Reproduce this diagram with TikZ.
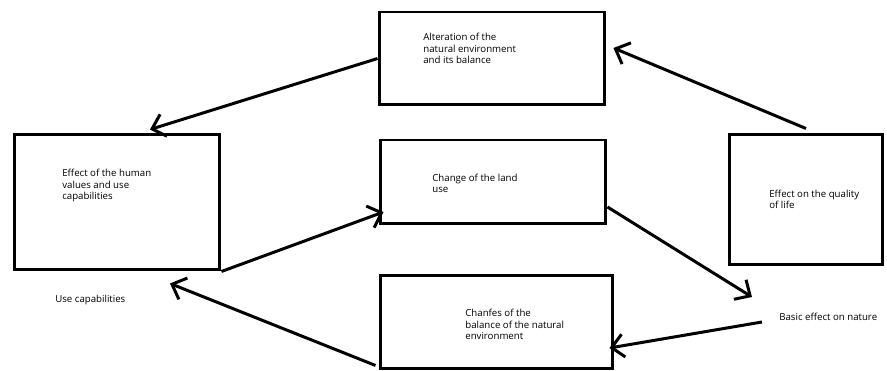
\documentclass[tikz,border=0pt]{standalone}
\usepackage{fontspec}
\setmainfont{Open Sans}
\usetikzlibrary{positioning, arrows.meta}

\begin{document}
\begin{tikzpicture}[
    x=0.02cm, y=-0.02cm,
    font=\fontsize{5.5}{6.8}\selectfont,
    box/.style={rectangle, draw=black, line width=1.7pt, inner sep=0pt},
    txt/.style={anchor=base west, align=left, inner sep=0pt},
    arrow/.style={-{Straight Barb[length=2.4mm, width=4.6mm]}, line width=1.7pt}
]
\useasboundingbox (0,0) rectangle (887,371);

% --- Cajas ---
\node[box, minimum width=4.52cm, minimum height=1.86cm] (alt) at (492,58.5) {};
\node[box, minimum width=4.12cm, minimum height=2.72cm] (human) at (117,202) {};
\node[box, minimum width=4.52cm, minimum height=1.68cm] (land) at (493,182) {};
\node[box, minimum width=3.08cm, minimum height=2.62cm] (quality) at (806,199.5) {};
\node[box, minimum width=4.66cm, minimum height=1.88cm] (balance) at (496.5,322) {};

% --- Textos (base = ultima linea) ---
\node[txt] (alttxt) at (423,64) {Alteration of the\\natural environment\\and its balance};
\node[txt] (humantxt) at (62,200) {Effect of the human\\values and use\\capabilities};
\node[txt] (landtxt) at (432,193) {Change of the land\\use};
\node[txt] (qualitytxt) at (769,209) {Effect on the quality\\of life};
\node[txt] (balancetxt) at (465,340) {Chanfes of the\\balance of the natural\\environment};
\node[txt] (usecap) at (55,303) {Use capabilities};
\node[txt] (nature) at (779,321) {Basic effect on nature};

\coordinate (natin) at (752,297);
\coordinate (natout) at (762,322);

% --- Flechas ---
\draw[arrow] (alt.west) -- ([xshift=0.66cm, yshift=0.06cm]human.north);
\draw[arrow] (human.south east) -- ([xshift=0.1cm, yshift=-0.6cm]land.west);
\draw[arrow] ([yshift=-0.5cm]land.east) -- (natin);
\draw[arrow] (natout) -- ([xshift=-0.1cm, yshift=-0.52cm]balance.east);
\draw[arrow] ([xshift=-0.06cm, yshift=0.1cm]balance.south west) -- ([xshift=1.06cm, yshift=-0.24cm]human.south);
\draw[arrow] ([yshift=0.08cm]quality.north) -- ([xshift=0.14cm, yshift=0.21cm]alt.east);

\end{tikzpicture}
\end{document}
